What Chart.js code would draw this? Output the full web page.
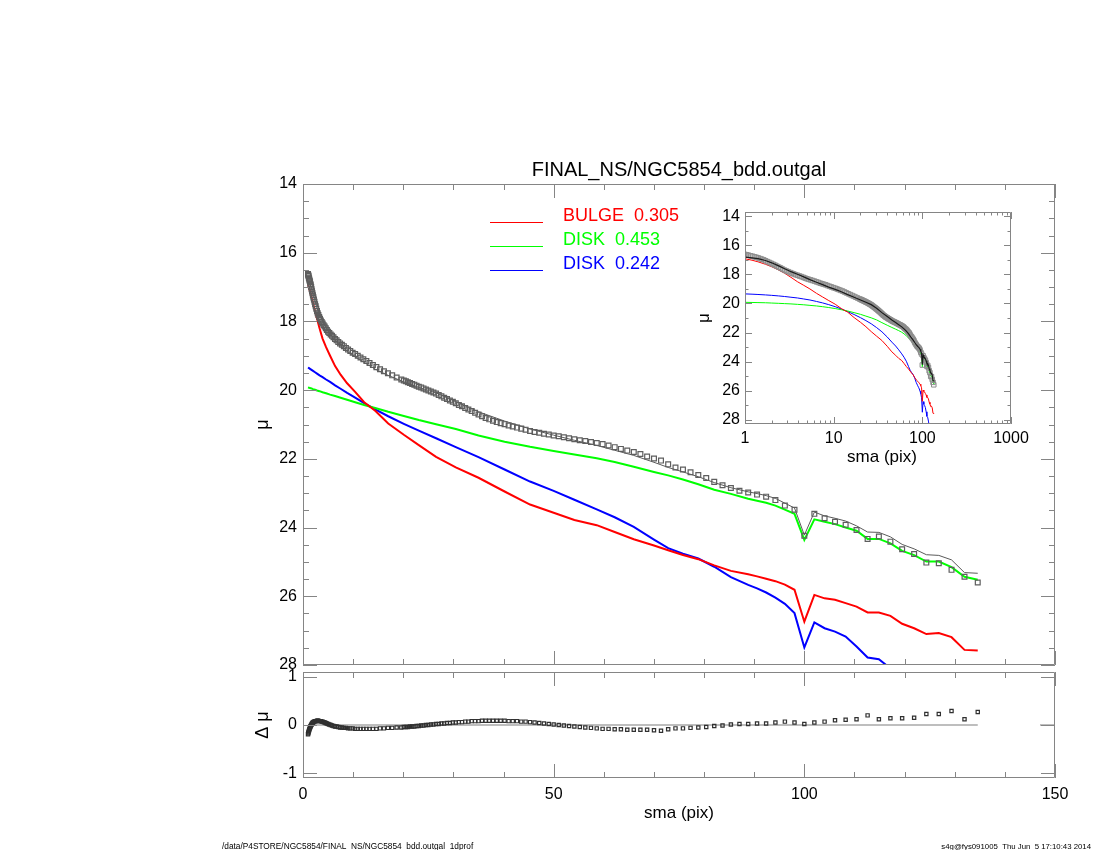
<!DOCTYPE html>
<html><head><meta charset="utf-8">
<script src="https://cdn.jsdelivr.net/npm/chart.js@4.4.1/dist/chart.umd.min.js"></script>
<style>
html,body{margin:0;padding:0;background:#fff;}
#wrap{position:relative;width:1100px;height:850px;background:#fff;}
canvas{position:absolute;left:0;top:0;}
</style></head><body>
<div id="wrap">
<canvas id="cMain" width="1100" height="850"></canvas>
<canvas id="cRes" width="1100" height="850"></canvas>
<canvas id="cIns" width="1100" height="850"></canvas>
</div>
<script>
// ---------------- DATA ----------------
const sma = [1.00,1.05,1.10,1.16,1.22,1.28,1.34,1.41,1.48,1.55,1.63,1.71,1.80,1.89,1.98,2.08,2.18,2.29,2.41,2.53,2.65,2.79,2.93,3.07,3.23,3.39,3.56,3.73,3.92,4.12,4.32,4.54,4.76,5.00,5.25,5.52,5.79,6.08,6.39,6.70,7.04,7.39,7.76,8.15,8.56,8.99,9.43,9.91,10.40,10.92,11.47,12.04,12.64,13.27,13.94,14.64,15.37,16.14,16.94,17.79,18.68,19.61,
20.11,20.52,20.93,21.34,21.77,22.21,22.65,23.10,23.57,24.04,24.52,25.01,25.51,26.02,26.54,27.07,27.61,28.16,28.72,29.30,29.89,30.48,31.09,31.71,32.35,32.99,33.65,34.33,35.01,35.71,36.43,37.15,37.90,38.65,39.43,40.21,41.02,41.84,42.68,43.53,44.40,45.29,46.19,47.12,48.06,49.02,50.00,51.01,52.03,53.07,54.13,55.21,56.31,57.44,58.59,59.76,60.95,62.17,63.41,64.68,65.98,67.30,68.64,70.01,71.41,72.84,74.30,75.79,77.30,78.85,80.43,82.03,83.68,85.35,87.06,88.80,90.57,92.38,94.23,96.12,98.04,100.00,102.00,104.04,106.12,108.24,110.41,112.62,114.87,117.17,119.51,121.90,124.34,126.82,129.36,131.95,134.59];

const muData = [16.62,16.65,16.68,16.72,16.75,16.79,16.82,16.86,16.91,16.95,17.00,17.06,17.12,17.18,17.24,17.30,17.36,17.43,17.50,17.56,17.63,17.70,17.76,17.81,17.87,17.92,17.97,18.02,18.06,18.11,18.15,18.20,18.25,18.30,18.34,18.38,18.42,18.46,18.51,18.55,18.60,18.64,18.68,18.72,18.77,18.82,18.86,18.91,18.95,19.00,19.05,19.10,19.15,19.21,19.27,19.33,19.39,19.45,19.51,19.57,19.63,19.69,
19.72,19.74,19.77,19.79,19.82,19.84,19.87,19.90,19.92,19.95,
19.98,20.01,20.04,20.07,20.10,20.14,20.18,20.22,20.26,20.30,
20.34,20.38,20.43,20.47,20.52,20.56,20.61,20.66,20.71,20.76,
20.81,20.85,20.89,20.93,20.96,20.99,21.03,21.06,21.09,21.12,
21.15,21.19,21.22,21.24,21.27,21.29,21.32,21.34,21.37,21.40,
21.43,21.46,21.48,21.51,21.54,21.57,21.61,21.66,21.71,21.76,
21.80,21.86,21.93,21.99,22.05,22.16,22.25,22.31,22.39,22.47,
22.56,22.67,22.77,22.85,22.93,22.98,23.04,23.10,23.20,23.36,
23.48,24.24,
23.60,23.73,23.83,23.92,24.07,24.33,24.26,24.41,24.63,24.77,25.02,25.04,25.23,25.43,25.60];

const resid = [-0.19,-0.17,-0.15,-0.13,-0.11,-0.09,-0.07,-0.05,-0.03,-0.02,0.00,0.01,0.03,0.04,0.05,0.06,0.07,0.07,0.08,0.08,0.08,0.09,0.09,0.09,0.08,0.08,0.08,0.07,0.07,0.06,0.05,0.04,0.03,0.02,0.01,0.00,-0.01,-0.02,-0.03,-0.03,-0.04,-0.05,-0.05,-0.06,-0.06,-0.07,-0.07,-0.07,-0.08,-0.08,-0.08,-0.08,-0.08,-0.08,-0.08,-0.08,-0.07,-0.07,-0.06,-0.06,-0.05,-0.05,
-0.04,-0.04,-0.04,-0.03,-0.03,-0.03,-0.02,-0.02,-0.01,-0.01,
0.00,0.00,0.01,0.01,0.02,0.02,0.03,0.03,0.04,0.04,
0.05,0.05,0.06,0.06,0.07,0.07,0.08,0.08,0.08,0.09,
0.09,0.09,0.09,0.09,0.09,0.09,0.08,0.08,0.08,0.07,
0.07,0.06,0.05,0.04,0.03,0.02,0.01,0.00,-0.01,-0.02,
-0.03,-0.04,-0.05,-0.06,-0.07,-0.08,-0.08,-0.09,-0.09,-0.10,
-0.10,-0.10,-0.10,-0.11,-0.12,-0.09,-0.07,-0.07,-0.06,-0.05,
-0.04,-0.02,-0.01,0.01,0.02,0.02,0.03,0.03,0.05,0.07,
0.05,0.02,
0.05,0.07,0.10,0.11,0.12,0.20,0.12,0.14,0.14,0.15,0.23,0.23,0.29,0.12,0.27];

const smaLine = [1.00,1.20,1.40,1.70,2.00,2.40,2.80,3.30,3.90,4.60,5.40,6.40,7.50,8.80,10.40,12.20,14.40,17.00,20.11,23.10,26.54,30.48,35.01,40.21,45.29,50.00,54.13,58.59,62.17,65.98,70.01,72.84,75.79,78.85,82.03,85.35,88.80,90.57,92.38,94.23,96.12,98.04,100.00,102.00,104.04,106.12,108.24,110.41,112.62,114.87,117.17,119.51,121.90,124.34,126.82,129.36,131.95,134.59];

const muModel = [16.81,16.86,16.91,17.04,17.20,17.41,17.61,17.81,17.99,18.17,18.36,18.54,18.70,18.87,19.03,19.19,19.39,19.57,19.76,19.92,20.08,20.33,20.63,20.90,21.13,21.31,21.46,21.61,21.75,21.90,22.10,22.25,22.38,22.52,22.69,22.84,22.96,23.01,23.07,23.15,23.29,23.43,24.22,23.55,23.66,23.73,23.81,23.95,24.13,24.14,24.27,24.49,24.62,24.79,24.81,24.94,25.31,25.33];

const muBulge = [16.92,17.02,17.13,17.30,17.47,17.70,17.92,18.20,18.50,18.75,19.00,19.30,19.55,19.80,20.05,20.35,20.60,20.97,21.30,21.60,21.94,22.25,22.55,22.95,23.33,23.57,23.78,23.93,24.13,24.34,24.52,24.66,24.80,24.92,25.10,25.26,25.36,25.42,25.49,25.56,25.66,25.81,26.74,25.96,26.06,26.10,26.20,26.30,26.47,26.47,26.57,26.80,26.93,27.10,27.07,27.19,27.56,27.58];

const muDisk1 = [19.92,19.93,19.94,19.95,19.97,19.99,20.01,20.03,20.06,20.09,20.13,20.17,20.22,20.28,20.35,20.43,20.52,20.63,20.75,20.87,20.99,21.13,21.32,21.50,21.65,21.77,21.87,21.98,22.09,22.23,22.38,22.48,22.60,22.74,22.90,23.02,23.16,23.22,23.28,23.36,23.48,23.60,24.36,23.76,23.83,23.90,24.00,24.09,24.33,24.33,24.46,24.68,24.80,24.99,24.99,25.15,25.43,25.52];

const muDisk2 = [19.34,19.36,19.38,19.41,19.44,19.48,19.52,19.57,19.62,19.69,19.76,19.86,19.96,20.08,20.22,20.38,20.56,20.76,20.98,21.18,21.40,21.66,21.95,22.31,22.66,22.93,23.19,23.47,23.70,23.98,24.35,24.60,24.76,24.90,25.14,25.44,25.67,25.77,25.89,26.04,26.22,26.49,27.49,26.76,26.93,27.03,27.17,27.46,27.78,27.83,28.10,28.42,28.62,28.95,29.00,29.20,29.60,29.70];

const zeroLineX = [1.00,134.59];
const zeroLineY = [0,0];
const zeroStubX = [147,150];
const zeroStubY = [0,0];

const legendLabels = ['BULGE  0.305','DISK  0.453','DISK  0.242'];
const legendColors = ['#ff0000','#00ff00','#0000ff'];

const mainXMajor = [0,50,100,150];
const mainXMinor = [10,20,30,40,60,70,80,90,110,120,130,140];
const mainYTicks = [14,16,18,20,22,24,26,28];
const mainYMinor = [14.5,15,15.5,16.5,17,17.5,18.5,19,19.5,20.5,21,21.5,22.5,23,23.5,24.5,25,25.5,26.5,27,27.5];
const resYTicks = [-1,0,1];
const insXTicks = [1,10,100,1000];
const insXMinor = [2,3,4,5,6,7,8,9,20,30,40,50,60,70,80,90,200,300,400,500,600,700,800,900];
const insYTicks = [14,16,18,20,22,24,26,28];
const insYMinor = [15,17,19,21,23,25,27];

// ---------------- HELPERS ----------------
const FONT = "'Liberation Sans', Arial, Helvetica, sans-serif";
const FRAME = '#858585';
const pts = (xs, ys) => xs.map((x, i) => ({x: x, y: ys[i]}));

function drawText(ctx, s, x, y, size, color, align, rot) {
  ctx.save();
  ctx.font = size + 'px ' + FONT;
  ctx.fillStyle = color;
  ctx.textAlign = align || 'center';
  ctx.textBaseline = 'middle';
  ctx.translate(x, y);
  if (rot) ctx.rotate(rot);
  ctx.fillText(s, 0, 0);
  ctx.restore();
}

function axesPlugin(id, cfg) {
  return {
    id: id,
    afterDatasetsDraw(chart) {
      const ctx = chart.ctx, a = chart.chartArea;
      const xs = chart.scales.x, ys = chart.scales.y;
      ctx.save();
      ctx.strokeStyle = FRAME; ctx.lineWidth = 1;
      ctx.beginPath();
      ctx.rect(a.left + 0.5, a.top + 0.5, a.right - a.left - 1, a.bottom - a.top - 1);
      const seg = (x1, y1, x2, y2) => { ctx.moveTo(x1, y1); ctx.lineTo(x2, y2); };
      const xt = (vals, len) => vals.forEach(v => {
        const p = Math.round(xs.getPixelForValue(v)) + 0.5;
        seg(p, a.bottom, p, a.bottom - len); seg(p, a.top, p, a.top + len);
      });
      const yt = (vals, len) => vals.forEach(v => {
        const p = Math.round(ys.getPixelForValue(v)) + 0.5;
        seg(a.left, p, a.left + len, p); seg(a.right, p, a.right - len, p);
      });
      xt(cfg.xMajor, cfg.major); xt(cfg.xMinor, cfg.minor);
      yt(cfg.yMajor, cfg.major); yt(cfg.yMinor, cfg.minor);
      ctx.stroke();
      ctx.restore();
      if (cfg.texts) cfg.texts(ctx, a);
    }
  };
}

const tickFont = {family: FONT, size: 16};
const noGrid = {display: false, drawTicks: false};
const fixTicks = arr => (s => { s.ticks = arr.map(v => ({value: v})); });
const baseOpts = (pad) => ({
  responsive: false, animation: false, events: [],
  layout: {padding: pad},
  plugins: {legend: {display: false}, tooltip: {enabled: false}, title: {display: false}}
});
const sq = (xs, ys, r, col, w) => ({data: pts(xs, ys), pointStyle: 'rect', pointRadius: r, borderColor: col,
  backgroundColor: 'rgba(0,0,0,0)', borderWidth: w || 1, showLine: false, clip: 0});
const ln = (xs, ys, col, w) => ({data: pts(xs, ys), showLine: true, pointRadius: 0, borderColor: col,
  backgroundColor: col, borderWidth: w, tension: 0, clip: 0});

// ---------------- MAIN PANEL ----------------
const mainOpts = baseOpts({left: 243, top: 184, right: 45, bottom: 185});
mainOpts.scales = {
  x: {type: 'linear', min: 0, max: 150, ticks: {display: false}, grid: noGrid, border: {display: false},
      afterFit: s => { s.height = 0; }},
  y: {type: 'linear', reverse: true, min: 14, max: 28, afterBuildTicks: fixTicks(mainYTicks),
      ticks: {font: tickFont, color: '#000', padding: 6, autoSkip: false, callback: v => String(v)},
      grid: noGrid, border: {display: false}, afterFit: s => { s.width = 60; }}
};
new Chart(document.getElementById('cMain'), {
  type: 'scatter',
  data: {datasets: [
    sq(sma, muData, 3.4, '#5e5e5e', 1.2),
    ln(smaLine, muModel, '#5a5a5a', 1),
    ln(smaLine, muBulge, '#ff0000', 2),
    ln(smaLine, muDisk1, '#00ff00', 2),
    ln(smaLine, muDisk2, '#0000ff', 2)
  ]},
  options: mainOpts,
  plugins: [axesPlugin('mainAxes', {
    xMajor: mainXMajor, xMinor: mainXMinor, yMajor: mainYTicks, yMinor: mainYMinor, major: 14, minor: 6,
    texts: (ctx, a) => {
      drawText(ctx, 'FINAL_NS/NGC5854_bdd.outgal', (a.left + a.right) / 2, 170, 20, '#000');
      drawText(ctx, 'μ', 263, (a.top + a.bottom) / 2, 18, '#000', 'center', -Math.PI / 2);
      const ly = [222, 246, 270];
      for (let i = 0; i < legendLabels.length; i++) {
        ctx.save();
        ctx.strokeStyle = legendColors[i]; ctx.lineWidth = 1;
        ctx.beginPath(); ctx.moveTo(490, ly[i] + 0.5); ctx.lineTo(543, ly[i] + 0.5); ctx.stroke();
        ctx.restore();
        drawText(ctx, legendLabels[i], 563, ly[i] - 5.5, 18, legendColors[i], 'left');
      }
    }
  })]
});

// ---------------- RESIDUAL PANEL ----------------
const resOpts = baseOpts({left: 243, top: 672, right: 45, bottom: 32});
resOpts.scales = {
  x: {type: 'linear', min: 0, max: 150, afterBuildTicks: fixTicks(mainXMajor),
      ticks: {font: tickFont, color: '#000', padding: 7, autoSkip: false, maxRotation: 0, callback: v => String(v)},
      grid: noGrid, border: {display: false}, afterFit: s => { s.height = 40; }},
  y: {type: 'linear', min: -1.1, max: 1.1, afterBuildTicks: fixTicks(resYTicks),
      ticks: {font: tickFont, color: '#000', padding: 6, autoSkip: false, callback: v => String(v)},
      grid: noGrid, border: {display: false}, afterFit: s => { s.width = 60; }}
};
new Chart(document.getElementById('cRes'), {
  type: 'scatter',
  data: {datasets: [
    sq(sma, resid, 2.3, '#303030', 1.2),
    ln(zeroLineX, zeroLineY, '#a8a8a8', 1.5),
    ln(zeroStubX, zeroStubY, '#a8a8a8', 1.5)
  ]},
  options: resOpts,
  plugins: [axesPlugin('resAxes', {
    xMajor: mainXMajor, xMinor: mainXMinor, yMajor: resYTicks, yMinor: [], major: 14, minor: 6,
    texts: (ctx, a) => {
      drawText(ctx, 'Δ μ', 263, (a.top + a.bottom) / 2, 18, '#000', 'center', -Math.PI / 2);
      drawText(ctx, 'sma (pix)', (a.left + a.right) / 2, 813, 17, '#000');
      drawText(ctx, '/data/P4STORE/NGC5854/FINAL_NS/NGC5854_bdd.outgal_1dprof', 222, 847, 8.3, '#000', 'left');
      drawText(ctx, 's4g@fys091005  Thu Jun  5 17:10:43 2014', 1091, 847, 7.8, '#000', 'right');
    }
  })]
});

// ---------------- INSET (log x) ----------------
const insOpts = baseOpts({left: 695, top: 212, right: 89, bottom: 396});
insOpts.scales = {
  x: {type: 'logarithmic', min: 1, max: 1000, afterBuildTicks: fixTicks(insXTicks),
      ticks: {font: tickFont, color: '#000', padding: 5, autoSkip: false, maxRotation: 0, callback: v => String(v)},
      grid: noGrid, border: {display: false}, afterFit: s => { s.height = 30; }},
  y: {type: 'linear', reverse: true, min: 13.7, max: 28.3, afterBuildTicks: fixTicks(insYTicks),
      ticks: {font: tickFont, color: '#000', padding: 5, autoSkip: false, callback: v => String(v)},
      grid: noGrid, border: {display: false}, afterFit: s => { s.width = 50; }}
};
new Chart(document.getElementById('cIns'), {
  type: 'scatter',
  data: {datasets: [
    ln(smaLine, muModel, '#1a1a1a', 1.2),
    sq(sma, muData, 3.2, '#8c8c8c'),
    ln(smaLine, muBulge, '#ff0000', 1),
    ln(smaLine, muDisk1, '#00ff00', 1),
    ln(smaLine, muDisk2, '#0000ff', 1)
  ]},
  options: insOpts,
  plugins: [axesPlugin('insAxes', {
    xMajor: insXTicks, xMinor: insXMinor, yMajor: insYTicks, yMinor: insYMinor, major: 7, minor: 3.5,
    texts: (ctx, a) => {
      drawText(ctx, 'μ', 704, (a.top + a.bottom) / 2, 17, '#000', 'center', -Math.PI / 2);
      drawText(ctx, 'sma (pix)', 882, 457, 17, '#000');
    }
  })]
});
</script>
</body></html>
